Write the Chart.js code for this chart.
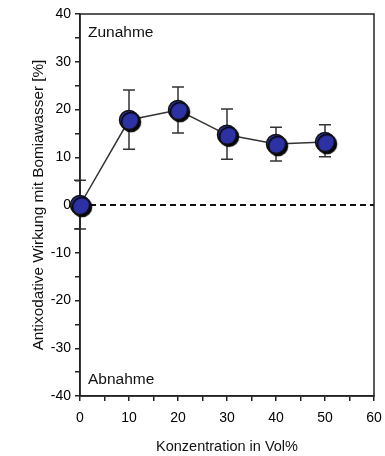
<!DOCTYPE html>
<html>
<head>
<meta charset="utf-8">
<script src="https://cdn.jsdelivr.net/npm/chart.js@4/dist/chart.umd.min.js"></script>
<style>
  html, body { margin: 0; padding: 0; background: #fff; }
  #wrap { width: 385px; height: 456px; }
</style>
</head>
<body>
<div id="wrap"><canvas id="chart" width="385" height="456"></canvas></div>
<script>
// data
var konzentration = [0, 10, 20, 30, 40, 50];
var wirkung = [0, 17.8, 19.9, 14.7, 12.8, 13.2];
var fehlerOben = [5.2, 24.1, 24.7, 20.1, 16.3, 16.8];
var fehlerUnten = [-5.0, 11.7, 15.1, 9.6, 9.2, 10.1];
var xTicks = [0, 10, 20, 30, 40, 50, 60];
var yTicks = [-40, -30, -20, -10, 0, 10, 20, 30, 40];

var punkte = konzentration.map(function (k, i) { return { x: k, y: wirkung[i] }; });

var fontFam = "'Liberation Sans', Arial, sans-serif";

// error bars, zero line, frame and the two labels
var extras = {
    id: 'extras',
    beforeDatasetsDraw: function (chart) {
        var ctx = chart.ctx, xs = chart.scales.x, ys = chart.scales.y, a = chart.chartArea;
        ctx.save();
        // dashed zero line
        ctx.strokeStyle = '#111';
        ctx.lineWidth = 2;
        ctx.setLineDash([6, 4]);
        ctx.beginPath();
        ctx.moveTo(a.left, ys.getPixelForValue(0));
        ctx.lineTo(a.right, ys.getPixelForValue(0));
        ctx.stroke();
        ctx.setLineDash([]);
        // error bars
        ctx.strokeStyle = '#333';
        ctx.lineWidth = 1.5;
        for (var i = 0; i < konzentration.length; i++) {
            var px = xs.getPixelForValue(konzentration[i]);
            var top = ys.getPixelForValue(fehlerOben[i]);
            var bot = ys.getPixelForValue(fehlerUnten[i]);
            ctx.beginPath();
            ctx.moveTo(px, top); ctx.lineTo(px, bot);
            ctx.moveTo(px - 6, top); ctx.lineTo(px + 6, top);
            ctx.moveTo(px - 6, bot); ctx.lineTo(px + 6, bot);
            ctx.stroke();
        }
        // frame
        ctx.strokeStyle = '#222';
        ctx.lineWidth = 1.5;
        ctx.strokeRect(a.left, a.top, a.right - a.left, a.bottom - a.top);
        // labels
        ctx.fillStyle = '#111';
        ctx.font = '15.5px ' + fontFam;
        ctx.textBaseline = 'middle';
        ctx.fillText('Zunahme', a.left + 8, a.top + 19);
        ctx.fillText('Abnahme', a.left + 8, a.bottom - 16);
        ctx.restore();
    },
    beforeDatasetDraw: function (chart, args) {
        if (args.index === 1) {
            var ctx = chart.ctx;
            ctx.save();
            ctx.shadowColor = '#000';
            ctx.shadowOffsetX = 2;
            ctx.shadowOffsetY = 2;
            ctx.shadowBlur = 1;
        }
    },
    afterDatasetDraw: function (chart, args) {
        if (args.index === 1) chart.ctx.restore();
    }
};

var ctx = document.getElementById('chart').getContext('2d');
var chart = new Chart(ctx, {
    type: 'scatter',
    data: {
        datasets: [{
            data: punkte,
            showLine: true,
            borderColor: '#333',
            borderWidth: 1.5,
            pointRadius: 0,
            order: 2,
            clip: false
        }, {
            data: punkte,
            showLine: false,
            pointRadius: 9.5,
            pointBackgroundColor: '#2c31a3',
            pointBorderColor: '#111',
            pointBorderWidth: 1.5,
            order: 1,
            clip: false
        }]
    },
    options: {
        responsive: false,
        animation: false,
        events: [],
        layout: { padding: { left: 0, right: 10, top: 14, bottom: 0 } },
        plugins: { legend: { display: false }, tooltip: { enabled: false } },
        scales: {
            x: {
                type: 'linear',
                min: 0, max: 60,
                border: { display: true, color: '#222', width: 1.5 },
                grid: { display: true, drawOnChartArea: false, drawTicks: true, tickLength: 5, color: '#222', lineWidth: 1.5 },
                ticks: {
                    stepSize: 5,
                    padding: 9,
                    color: '#000',
                    font: { family: fontFam, size: 14 },
                    maxRotation: 0,
                    autoSkip: false,
                    callback: function (v) { return xTicks.indexOf(v) >= 0 ? String(v) : ''; }
                },
                title: {
                    display: true,
                    text: 'Konzentration in Vol%',
                    color: '#111',
                    font: { family: fontFam, size: 14.5 },
                    padding: { top: 4, bottom: 0 }
                },
                afterFit: function (scale) {
                    scale.height = 60;
                    scale.paddingLeft = 0;
                    scale.paddingRight = 0;
                }
            },
            y: {
                type: 'linear',
                min: -40, max: 40,
                border: { display: true, color: '#222', width: 1.5 },
                grid: { display: true, drawOnChartArea: false, drawTicks: true, tickLength: 5, color: '#222', lineWidth: 1.5 },
                ticks: {
                    stepSize: 5,
                    padding: 4,
                    color: '#000',
                    font: { family: fontFam, size: 14 },
                    autoSkip: false,
                    callback: function (v) { return yTicks.indexOf(v) >= 0 ? String(v) : ''; }
                },
                title: {
                    display: true,
                    text: 'Antixodative Wirkung mit Bomiawasser [%]',
                    color: '#111',
                    font: { family: fontFam, size: 15.3 },
                    padding: { top: 30, bottom: 0 }
                },
                afterFit: function (scale) {
                    scale.width = 80;
                    scale.paddingTop = 0;
                    scale.paddingBottom = 0;
                }
            }
        }
    },
    plugins: [extras]
});
</script>
</body>
</html>
